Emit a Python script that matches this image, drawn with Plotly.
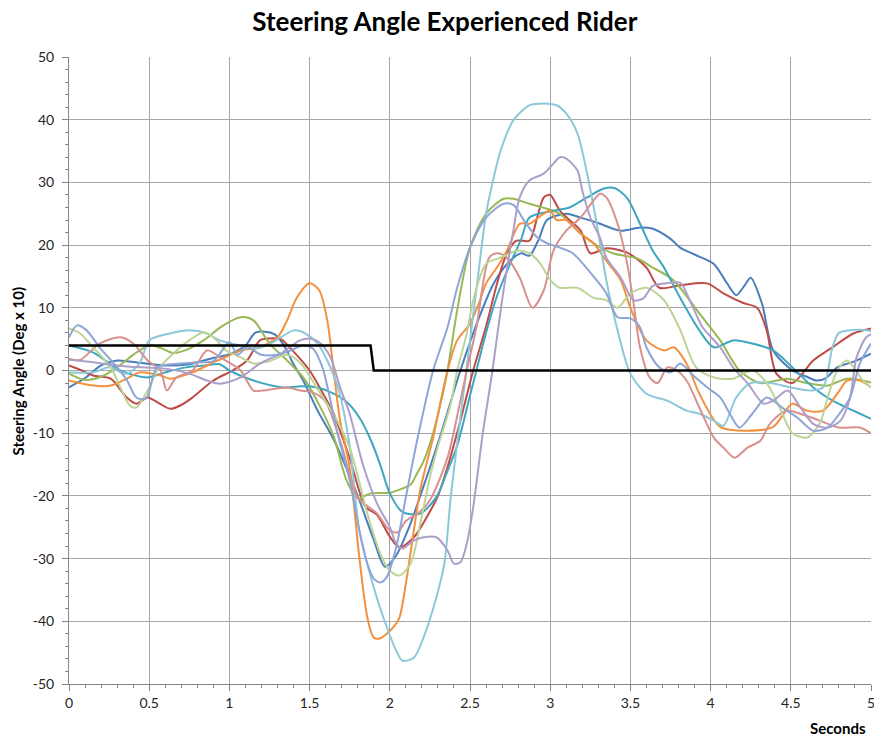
import plotly.graph_objects as go

# ---------------- data ----------------
t_blue = [0, 0.1, 0.2, 0.3, 0.45, 0.6, 0.75, 0.9, 1.0, 1.1, 1.16, 1.22, 1.28, 1.34, 1.4, 1.46, 1.55, 1.65, 1.8, 1.9,
          1.97, 2.04, 2.12, 2.19, 2.32, 2.44, 2.55, 2.65, 2.75, 2.82, 2.87, 2.93, 2.98, 3.1, 3.2, 3.29, 3.44, 3.56, 3.64, 3.75,
          3.81, 3.9, 4.02, 4.1, 4.16, 4.21, 4.25, 4.32, 4.39, 4.51, 4.6, 4.66, 4.72, 4.79, 4.9, 5.0]
y_blue = [-2.7, -1.2, 0.8, 1.6, 1.2, 0.8, 1.0, 2.0, 2.6, 4.0, 6.0, 6.2, 5.8, 4.0, 1.0, -1.6, -6.4, -11, -20, -27,
          -31.3, -29.5, -25, -20, -10, 0, 8, 14, 17.5, 18.7, 18.3, 21, 24, 25, 24.3, 23.6, 22.3, 22.8, 22.6, 21,
          19.6, 18.5, 17, 14, 12, 13.5, 14.8, 10.7, 3.2, 0, -1, -1.6, -1.2, 0.5, 1.5, 2.7]

t_red = [0, 0.08, 0.15, 0.26, 0.36, 0.42, 0.49, 0.56, 0.63, 0.7, 0.77, 0.9, 1.02, 1.11, 1.19, 1.25, 1.32, 1.4, 1.5, 1.58,
         1.65, 1.75, 1.85, 1.92, 2.0, 2.06, 2.15, 2.23, 2.3, 2.36, 2.44, 2.52, 2.6, 2.67, 2.73, 2.79, 2.87, 2.92, 2.96, 3.0,
         3.06, 3.12, 3.19, 3.25, 3.35, 3.48, 3.6, 3.68, 3.81, 3.98, 4.08, 4.2, 4.29, 4.35, 4.41, 4.51, 4.64, 4.76, 4.89, 5.0]
y_red = [0.8, 0, -0.8, -1.3, -4.3, -5.3, -4.3, -5.2, -6.1, -5.5, -4.3, -1.6, 0, 1.6, 4.8, 5.1, 5.0, 3, 0, -3.5,
         -6.9, -14, -21.8, -23, -26.5, -28.2, -26.6, -23.4, -20, -15.4, -8, 0, 7, 14, 18.7, 20.7, 20.7, 24.5, 27.6, 28,
         25.5, 24, 22.3, 18.7, 19.5, 18.8, 16.4, 13.2, 13.6, 13.9, 12.3, 10.8, 10, 6.4, -0.5, -2, 1.6, 3.7, 5.9, 6.7]

t_green = [0, 0.1, 0.2, 0.3, 0.4, 0.5, 0.58, 0.65, 0.75, 0.85, 0.95, 1.07, 1.15, 1.25, 1.36, 1.46, 1.55, 1.65, 1.73, 1.8,
           1.88, 2.0, 2.08, 2.13, 2.17, 2.21, 2.27, 2.33, 2.36, 2.42, 2.5, 2.6, 2.71, 2.77, 2.87, 2.98, 3.06, 3.17, 3.27,
           3.39, 3.54, 3.64, 3.75, 3.81, 3.93, 4.06, 4.18, 4.31, 4.48, 4.6, 4.73, 4.85, 5.0]
y_green = [-0.5, -1.5, -1.0, 0.5, 2.5, 4.0, 3.5, 2.8, 3.5, 5.0, 7.0, 8.5, 8.0, 4.3, 1.6, -1.1, -5, -10.5, -17.5, -20.4,
           -19.6, -19.5, -18.8, -18.2, -16.4, -14.5, -10, -3.7, 0, 9.6, 19.6, 25, 27.4, 27.4, 26.6, 25.8, 25, 22.3, 20.3,
           18.7, 17.9, 16.4, 14.8, 13.2, 9.1, 4.8, 0, -2, -1.3, -2, -2.4, -1.3, -1.9]

t_teal = [0, 0.15, 0.32, 0.49, 0.6, 0.73, 0.85, 0.94, 1.0, 1.15, 1.34, 1.45, 1.55, 1.65, 1.73, 1.81, 1.88, 1.94, 2.0, 2.08,
          2.19, 2.29, 2.36, 2.42, 2.5, 2.54, 2.6, 2.67, 2.75, 2.82, 2.87, 3.02, 3.12, 3.23, 3.33, 3.4, 3.48, 3.56, 3.64,
          3.71, 3.81, 3.93, 4.02, 4.14, 4.26, 4.39, 4.51, 4.64, 4.76, 4.89, 5.0]
y_teal = [4, 2.9, 0, -1.1, -0.3, 0.5, 0.8, 1.0, 0, -1.6, -2.7, -2.5, -2.7, -3.7, -5, -7.5, -11, -15, -19.6, -22.6,
          -22.8, -20.2, -16, -12, -4, 0, 6, 12, 17, 21, 24.4, 25.5, 26, 27.6, 29, 29.1, 27.5, 23.4, 19.1,
          16.4, 11.6, 6.4, 3.7, 4.8, 4.3, 3.2, 0.5, -2.7, -4.8, -6.4, -7.7]

t_orange = [0, 0.15, 0.26, 0.36, 0.44, 0.57, 0.63, 0.77, 0.9, 1.0, 1.07, 1.19, 1.3, 1.36, 1.42, 1.5, 1.56, 1.61, 1.65, 1.69,
            1.75, 1.81, 1.86, 1.9, 1.94, 2.02, 2.06, 2.1, 2.15, 2.19, 2.27, 2.36, 2.42, 2.5, 2.56, 2.6, 2.67, 2.73, 2.81,
            2.87, 2.96, 3.0, 3.04, 3.1, 3.19, 3.27, 3.35, 3.44, 3.5, 3.6, 3.71, 3.77, 3.85, 3.93, 4.06, 4.23, 4.39, 4.51,
            4.6, 4.7, 4.79, 4.85, 4.93, 5.0]
y_orange = [-1.6, -2.4, -2.4, -1.3, -0.3, -0.8, -1.3, -0.3, 1.3, 2.4, 3.2, 3.7, 5.3, 8, 11.6, 13.9, 12.8, 8, 0, -8,
            -15.5, -29.8, -39.4, -42.6, -42.7, -41, -39.4, -34, -25.5, -19, -10.7, 0, 4.8, 7.5, 11, 13.9, 16.5, 19.1, 23.4,
            23.4, 25, 25.5, 24, 24, 21.8, 20.3, 17.5, 14.4, 10, 4.8, 3.2, 3.7, 1.1, -3.7, -9, -9.6, -9, -5.3,
            -6.4, -6.4, -3.7, -1.6, -1.6, -2.7]

t_lcyan = [0, 0.15, 0.25, 0.36, 0.44, 0.5, 0.63, 0.75, 0.86, 0.94, 1.07, 1.17, 1.27, 1.4, 1.46, 1.55, 1.61, 1.68, 1.75, 1.81,
           1.9, 1.96, 2.04, 2.08, 2.15, 2.21, 2.29, 2.34, 2.38, 2.44, 2.48, 2.5, 2.55, 2.6, 2.65, 2.69, 2.77, 2.87, 2.96,
           3.04, 3.1, 3.17, 3.23, 3.29, 3.35, 3.42, 3.5, 3.6, 3.73, 3.85, 3.93, 4.02, 4.08, 4.16, 4.25, 4.37, 4.5, 4.62,
           4.7, 4.76, 4.8, 4.93, 5.0]
y_lcyan = [-0.3, -0.3, 0.5, -0.5, 1.1, 4.8, 5.9, 6.4, 5.9, 4.8, 4.0, 3.5, 4.5, 6.4, 6.1, 4.3, 1.6, -3, -12, -25.5,
           -34.6, -39.4, -44.7, -46.3, -45.8, -42.6, -36.2, -30.8, -20.2, -7.5, 0.5, 4.8, 15, 25, 31, 35, 39.9, 42.3, 42.6,
           42.3, 41, 37.8, 31.4, 23.4, 14.4, 6.4, -0.5, -3.7, -4.8, -6.4, -6.9, -8, -8.8, -4.3, -2, -2, -2.7, -3.2,
           -2.7, 3.7, 6.0, 6.5, 6.3]

t_pink = [0, 0.07, 0.19, 0.32, 0.4, 0.49, 0.57, 0.61, 0.67, 0.77, 0.86, 0.95, 1.07, 1.15, 1.21, 1.36, 1.44, 1.52, 1.6, 1.7,
          1.8, 1.92, 2.0, 2.05, 2.1, 2.19, 2.25, 2.36, 2.44, 2.48, 2.54, 2.62, 2.67, 2.73, 2.81, 2.89, 2.96, 3.02, 3.1, 3.19,
          3.27, 3.31, 3.35, 3.42, 3.48, 3.52, 3.56, 3.62, 3.67, 3.73, 3.79, 3.85, 3.93, 4.02, 4.08, 4.15, 4.23, 4.31, 4.37,
          4.47, 4.56, 4.68, 4.8, 4.93, 5.0]
y_pink = [1.9, 1.7, 4.3, 5.3, 4.3, 1.6, 0, -3.2, -1.1, 0, 3.2, 2.0, 0, -3.2, -3.2, -2.7, -3.2, -3.5, -5, -12,
          -20.2, -22.8, -25.5, -25.8, -24, -22.5, -20.7, -13.9, -4.8, 0, 6.9, 18, 18.7, 18, 14.8, 10, 12.8, 19.1, 22.3, 24.4,
          27.1, 28.2, 27.6, 23.4, 17, 10.7, 3.7, -1.1, -2, 0.5, 0, -1.6, -5.9, -10.7, -12.3, -13.9, -12.3, -11.2, -8.5,
          -6.4, -6.9, -8, -9.1, -9.1, -10]

t_lgreen = [0, 0.07, 0.15, 0.26, 0.32, 0.38, 0.42, 0.49, 0.55, 0.65, 0.75, 0.84, 0.9, 0.98, 1.07, 1.15, 1.25, 1.36, 1.45,
            1.55, 1.65, 1.75, 1.86, 1.94, 2.0, 2.06, 2.13, 2.19, 2.25, 2.29, 2.38, 2.42, 2.48, 2.52, 2.6, 2.69, 2.79, 2.87,
            2.94, 3.0, 3.06, 3.17, 3.27, 3.35, 3.42, 3.5, 3.6, 3.71, 3.81, 3.91, 4.02, 4.14, 4.26, 4.35, 4.43, 4.51, 4.6,
            4.68, 4.73, 4.79, 4.85, 4.95, 5.0]
y_lgreen = [6.7, 5.9, 3.7, 0.5, -2.7, -5.6, -5.9, -3.2, 0, 2.7, 4.8, 6.1, 5.3, 3.2, 2.1, 1.1, 1.5, 2.5, 1,
            -3, -7, -12.3, -22.8, -29.2, -31.9, -32.7, -30.8, -24.4, -17, -13, -5.3, 0, 5.9, 11.2, 17, 18, 19.1, 18.7,
            17, 14.4, 13.2, 13.2, 11.6, 11.2, 10, 12.3, 13.2, 11.2, 6.5, 0.5, -1.1, -1.3, 0, -2, -5.9, -10, -10.7,
            -8.5, -4.3, 0, 1.6, -1.6, -2.7]

t_lav = [0, 0.15, 0.3, 0.45, 0.6, 0.75, 0.86, 0.94, 1.07, 1.19, 1.32, 1.44, 1.5, 1.56, 1.63, 1.69, 1.75, 1.83, 1.92, 2.0,
         2.04, 2.08, 2.15, 2.21, 2.29, 2.36, 2.4, 2.44, 2.48, 2.52, 2.58, 2.64, 2.7, 2.77, 2.81, 2.87, 2.96, 3.02, 3.06,
         3.1, 3.17, 3.2, 3.25, 3.31, 3.35, 3.44, 3.52, 3.58, 3.64, 3.73, 3.81, 3.87, 3.95, 4.06, 4.14, 4.23, 4.33, 4.39,
         4.48, 4.56, 4.64, 4.73, 4.81, 4.87, 4.91, 4.97, 5.0]
y_lav = [1.7, 1.3, 0.8, 0.5, 0.3, -0.5, -1.6, -2.1, -1.1, 1.1, 2.7, 4.8, 5.1, 4.5, 2.1, -2.7, -6.9, -14.8, -21.2, -25,
         -27.6, -28.4, -27.1, -26.6, -26.6, -28.7, -30.8, -30.6, -27.6, -21.8, -10, 0, 11.2, 22.3, 27.6, 30.3, 31.4, 33, 34,
         33.8, 31.9, 28.7, 24.4, 21.2, 18, 14.8, 11.2, 11.5, 13.5, 13.9, 14, 11.2, 6.9, 3.7, 0.5, -2, -5.3, -4.8,
         -3.2, -5.9, -8.5, -9.1, -8, -4.3, 2.1, 5.3, 5.8]

t_peri = [0, 0.05, 0.11, 0.19, 0.28, 0.36, 0.42, 0.48, 0.55, 0.69, 0.8, 0.9, 1.0, 1.05, 1.11, 1.2, 1.3, 1.38, 1.46, 1.52,
          1.58, 1.67, 1.75, 1.81, 1.86, 1.9, 1.94, 1.98, 2.04, 2.1, 2.17, 2.27, 2.36, 2.42, 2.5, 2.6, 2.71, 2.77, 2.85, 2.92,
          2.98, 3.06, 3.14, 3.27, 3.35, 3.42, 3.5, 3.56, 3.6, 3.68, 3.75, 3.81, 3.9, 3.98, 4.06, 4.12, 4.18, 4.26, 4.35,
          4.45, 4.54, 4.64, 4.73, 4.8, 4.87, 4.93, 5.0]
y_peri = [5.3, 7.2, 6.4, 3.7, 1.1, -1.5, -4.3, -4.5, 0.5, 1.1, 1.3, 1.5, 4.5, 2.5, 3.7, 2.5, 2.5, 3.2, 4.0, 3.5,
          0.5, -9.6, -17.5, -25.5, -30.8, -33.2, -33.8, -33, -28.2, -20.2, -11.2, 0, 6.9, 13.2, 19.6, 24.4, 26.6, 26.4, 23.4,
          21.2, 20.3, 19.6, 18.7, 15, 12.3, 8.5, 8.3, 6.9, 3.7, 0.5, -0.3, 1.1, -1.0, -2.7, -4.3, -6.9, -9.1, -6.9, -4.3,
          -6, -7.5, -9.6, -9.1, -7, -4.3, 1.1, 4.3]

t_cmd = [0, 1.88, 1.9, 5]
y_cmd = [4, 4, 0, 0]

x_ticks = [0, 0.5, 1, 1.5, 2, 2.5, 3, 3.5, 4, 4.5, 5]
x_tick_text = ["0", "0.5", "1", "1.5", "2", "2.5", "3", "3.5", "4", "4.5", "5"]
y_ticks = [-50, -40, -30, -20, -10, 0, 10, 20, 30, 40, 50]
y_tick_text = ["-50", "-40", "-30", "-20", "-10", "0", "10", "20", "30", "40", "50"]

series = [
    (t_blue, y_blue, "#4A7EBB"),
    (t_red, y_red, "#BE4B48"),
    (t_green, y_green, "#98B954"),
    (t_teal, y_teal, "#3FA6BF"),
    (t_orange, y_orange, "#F2903F"),
    (t_lcyan, y_lcyan, "#8CC8DA"),
    (t_pink, y_pink, "#D8918E"),
    (t_lgreen, y_lgreen, "#BCD496"),
    (t_lav, y_lav, "#AE9ECA"),
    (t_peri, y_peri, "#8EA5D5"),
]

fig = go.Figure()
for t, y, col in series:
    n = min(len(t), len(y))
    fig.add_trace(go.Scatter(x=t[:n], y=y[:n], mode="lines",
                             line=dict(color=col, width=2, shape="spline", smoothing=0.8),
                             hoverinfo="skip", showlegend=False))

fig.add_trace(go.Scatter(x=t_cmd, y=y_cmd, mode="lines",
                         line=dict(color="#000000", width=2.5), showlegend=False))

FONT = "Lato, 'Open Sans', Arial, sans-serif"
fig.update_layout(
    width=874, height=736,
    margin=dict(l=69, r=3, t=57, b=52, autoexpand=False),
    paper_bgcolor="white", plot_bgcolor="white",
    font=dict(family=FONT, size=13, color="#262626"),
    title=dict(text="<b>Steering Angle Experienced Rider</b>", x=0.509, xanchor="center",
               y=0.970, yanchor="middle", yref="container",
               font=dict(family=FONT, size=26, color="#000000")),
    showlegend=False,
)
fig.update_xaxes(range=[0, 5], tickvals=x_ticks, ticktext=x_tick_text, automargin=False,
                 showgrid=True, gridcolor="#A6A6A6", gridwidth=1,
                 showline=True, linecolor="#868686", linewidth=1,
                 ticks="outside", ticklen=6, tickcolor="#868686",
                 minor=dict(dtick=0.1, ticks="outside", ticklen=3, tickcolor="#868686", showgrid=False),
                 zeroline=False, ticklabelstandoff=0, ticklabeloverflow="allow",
                 tickfont=dict(family=FONT, size=14, color="#262626"))
fig.update_yaxes(range=[-50, 50], tickvals=y_ticks, ticktext=y_tick_text, automargin=False,
                 showgrid=True, gridcolor="#A6A6A6", gridwidth=1,
                 showline=True, linecolor="#868686", linewidth=1,
                 ticks="outside", ticklen=6, tickcolor="#868686",
                 minor=dict(dtick=2, ticks="outside", ticklen=3, tickcolor="#868686", showgrid=False),
                 zeroline=False, ticklabelstandoff=5, ticklabeloverflow="allow",
                 tickfont=dict(family=FONT, size=14, color="#262626"))

fig.add_annotation(text="<b>Steering Angle (Deg x 10)</b>", xref="paper", yref="paper",
                   x=-0.0636, y=0.5, xanchor="center", yanchor="middle", textangle=-90,
                   showarrow=False, font=dict(family=FONT, size=15, color="#000000"))
fig.add_annotation(text="<b>Seconds</b>", xref="paper", yref="paper",
                   x=0.996, y=-0.0702, xanchor="right", yanchor="middle",
                   showarrow=False, font=dict(family=FONT, size=15, color="#000000"))

# remove the default 8px page margin and scrollbars so the 874x736 figure fills the window
fig.write_html("out.html",
               config={"displayModeBar": False},
               post_script="document.body.style.margin='0';document.body.style.overflow='hidden';")
